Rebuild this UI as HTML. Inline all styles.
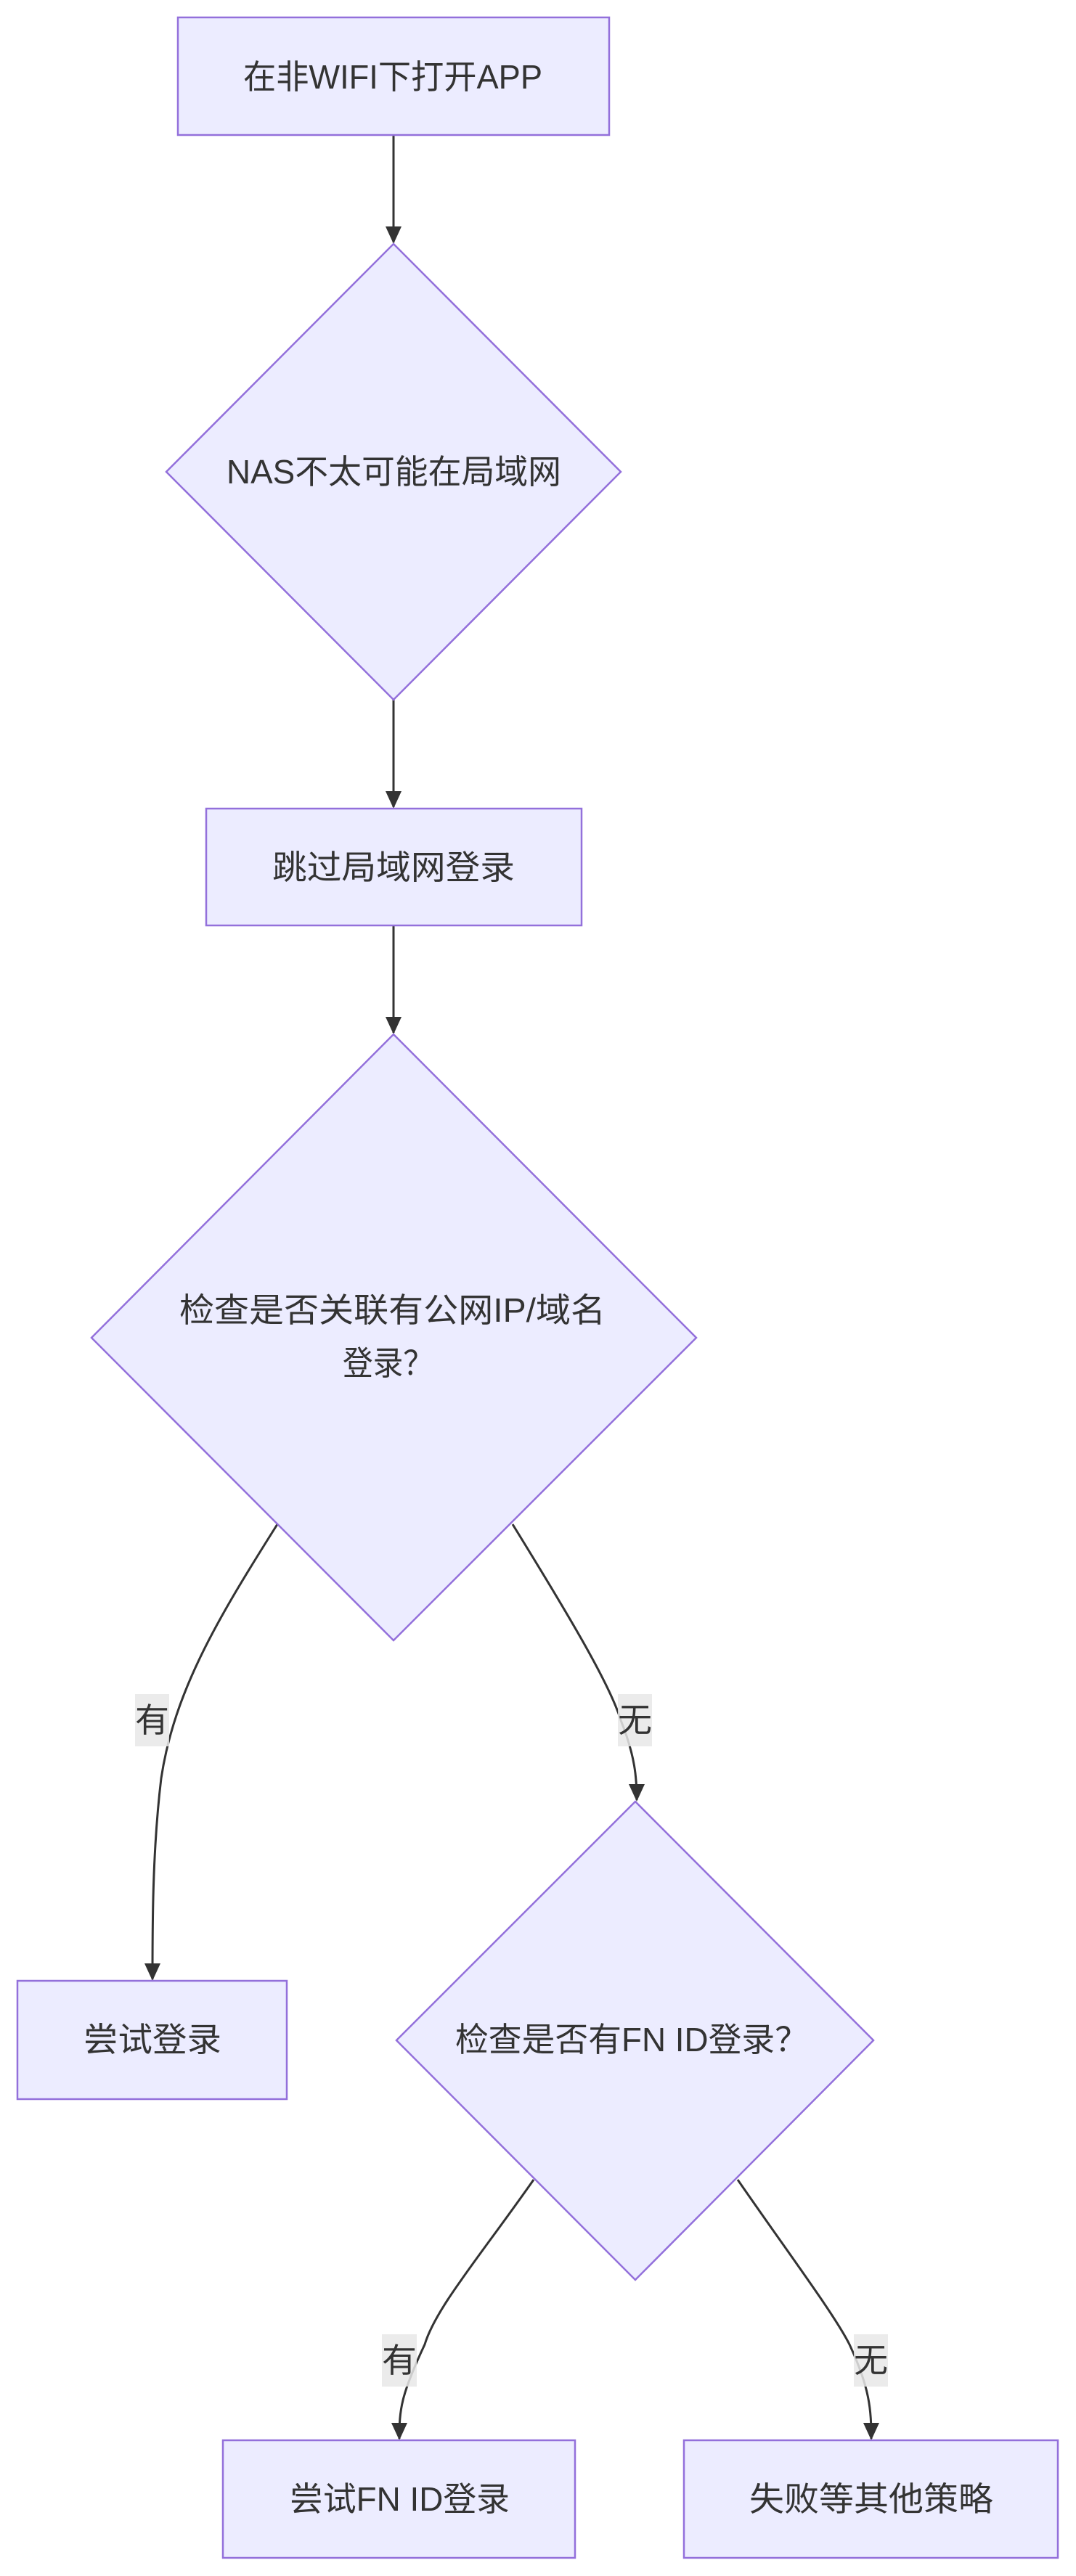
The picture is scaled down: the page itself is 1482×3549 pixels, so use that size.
<!DOCTYPE html>
<html><head><meta charset="utf-8"><style>
html,body{margin:0;padding:0;background:#fff;}
svg{display:block;}
text{font-family:"Liberation Sans","Noto Sans CJK SC",sans-serif;font-size:46px;fill:#333;}
</style></head><body>
<svg width="1482" height="3549" viewBox="0 0 1482 3549" xmlns="http://www.w3.org/2000/svg">
<defs>
<marker id="ah" viewBox="0 0 12 12" refX="11" refY="6" markerWidth="12" markerHeight="12" markerUnits="userSpaceOnUse" orient="auto">
<path d="M0,0 L12,6 L0,12 z" fill="#333"/>
</marker>
</defs>
<g fill="none" stroke="#333" stroke-width="3">
<path d="M542,186 L542,334" marker-end="url(#ah)" style="marker-end:none"/>
<path d="M542,964 L542,1112"/>
<path d="M542,1275 L542,1423"/>
<path d="M382,2100 C300,2230 240,2330 222,2450 C210,2550 210,2650 210,2727"/>
<path d="M706,2100 C780,2220 840,2320 855,2370 C875,2420 877,2450 877,2480"/>
<path d="M735,3003 C660,3110 600,3180 585,3230 C552,3300 550,3320 550,3360"/>
<path d="M1016,3003 C1090,3110 1150,3190 1170,3230 C1198,3290 1200,3320 1200,3360"/>
</g>
<g fill="#333">
<path d="M531,312 L553,312 L542,336 z"/>
<path d="M531,1090 L553,1090 L542,1114 z"/>
<path d="M531,1401 L553,1401 L542,1425 z"/>
<path d="M199,2705 L221,2705 L210,2729 z"/>
<path d="M866,2458 L888,2458 L877,2482 z"/>
<path d="M539,3338 L561,3338 L550,3362 z"/>
<path d="M1189,3338 L1211,3338 L1200,3362 z"/>
</g>
<g fill="#ECECFF" stroke="#9370DB" stroke-width="2.5">
<rect x="245" y="24" width="594" height="162"/>
<polygon points="542,336 855,650 542,964 229,650"/>
<rect x="284" y="1114" width="517" height="161"/>
<polygon points="542,1425 959,1843 542,2260 126,1843"/>
<rect x="24" y="2729" width="371" height="163"/>
<polygon points="875,2482 1203,2811 875,3141 546,2811"/>
<rect x="307" y="3362" width="485" height="162"/>
<rect x="942" y="3362" width="515" height="162"/>
</g>
<g fill="rgba(232,232,232,0.85)">
<rect x="186" y="2334" width="47" height="72"/>
<rect x="851" y="2334" width="47" height="72"/>
<rect x="526" y="3216" width="48" height="72"/>
<rect x="1176" y="3216" width="47" height="72"/>
</g>
<g dominant-baseline="central">
<text x="335" y="106" textLength="412" lengthAdjust="spacingAndGlyphs">在非WIFI下打开APP</text>
<text x="312" y="650" textLength="461" lengthAdjust="spacingAndGlyphs">NAS不太可能在局域网</text>
<text x="375" y="1195" textLength="334" lengthAdjust="spacingAndGlyphs">跳过局域网登录</text>
<text x="247" y="1805" textLength="587" lengthAdjust="spacingAndGlyphs">检查是否关联有公网IP/域名</text>
<text x="472" y="1878" textLength="125" lengthAdjust="spacingAndGlyphs">登录？</text>
<text x="115" y="2810" textLength="190" lengthAdjust="spacingAndGlyphs">尝试登录</text>
<text x="627" y="2810" textLength="486" lengthAdjust="spacingAndGlyphs">检查是否有FN ID登录？</text>
<text x="399" y="3443" textLength="303" lengthAdjust="spacingAndGlyphs">尝试FN ID登录</text>
<text x="1032" y="3443" textLength="336" lengthAdjust="spacingAndGlyphs">失败等其他策略</text>
<text x="186" y="2370" textLength="47" lengthAdjust="spacingAndGlyphs">有</text>
<text x="851" y="2370" textLength="47" lengthAdjust="spacingAndGlyphs">无</text>
<text x="526" y="3252" textLength="48" lengthAdjust="spacingAndGlyphs">有</text>
<text x="1176" y="3252" textLength="47" lengthAdjust="spacingAndGlyphs">无</text>
</g>
</svg>
</body></html>
